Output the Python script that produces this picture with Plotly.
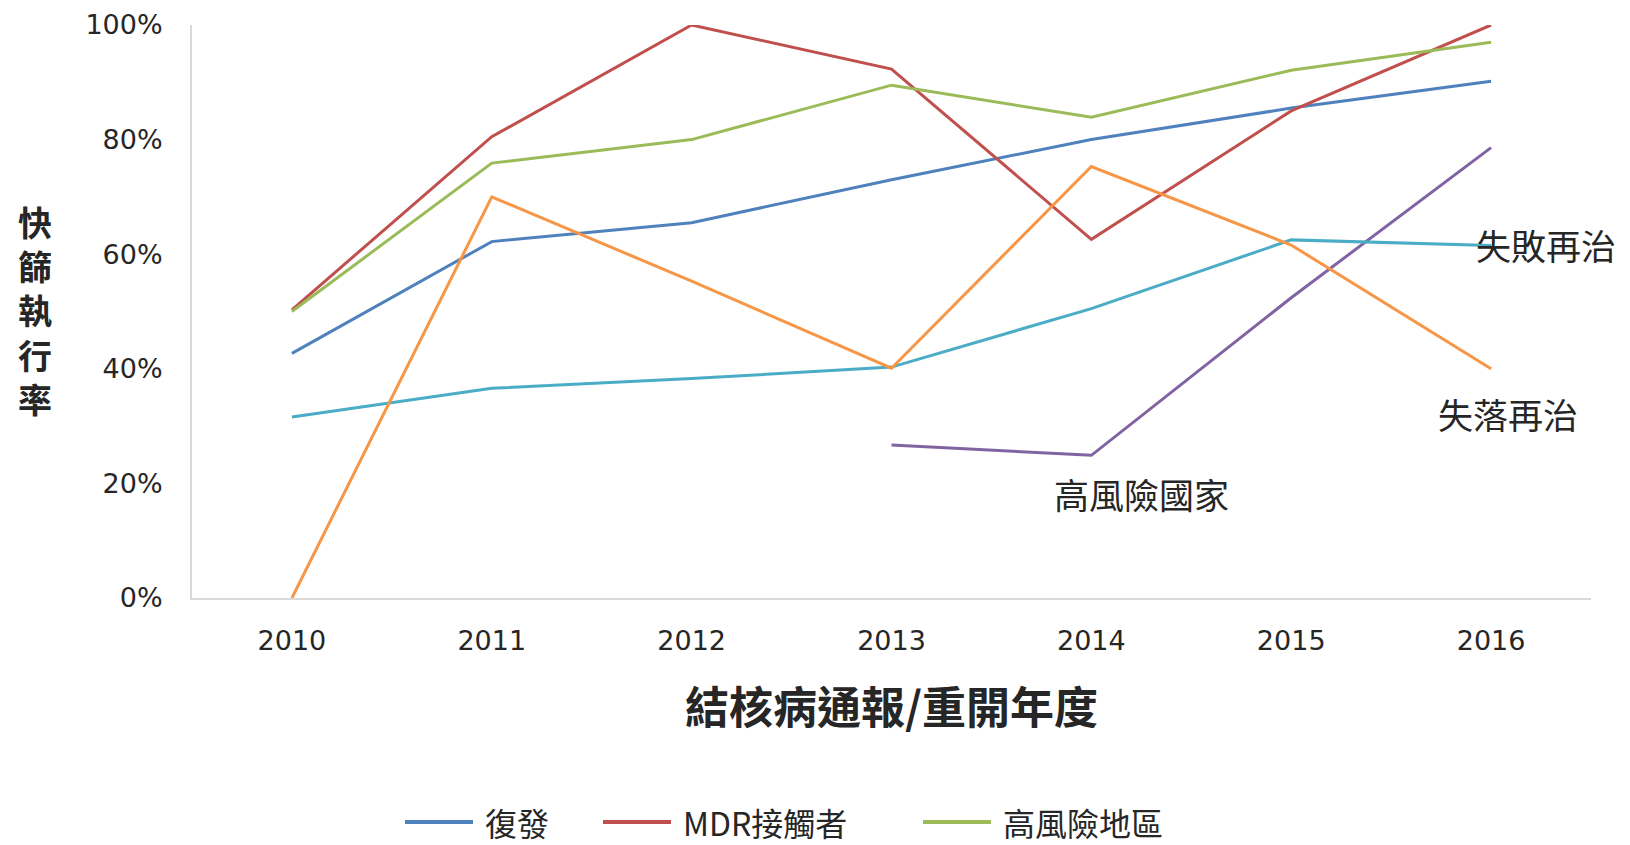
import plotly.graph_objects as go

# Screening rates by year of TB notification / re-registration
years = ["2010", "2011", "2012", "2013", "2014", "2015", "2016"]

relapse = [0.427, 0.622, 0.655, 0.730, 0.800, 0.855, 0.902]          # 復發
mdr_contacts = [0.503, 0.805, 1.000, 0.923, 0.626, 0.850, 1.000]     # MDR接觸者
high_risk_area = [0.500, 0.759, 0.800, 0.895, 0.839, 0.921, 0.970]   # 高風險地區
lost_retreat = [0.000, 0.700, 0.553, 0.401, 0.753, 0.616, 0.400]     # 失落再治
failed_retreat = [0.316, 0.366, 0.383, 0.403, 0.505, 0.625, 0.615]   # 失敗再治
high_risk_country = [None, None, None, 0.267, 0.249, 0.524, 0.786]   # 高風險國家

y_title = "快篩執行率"
x_title = "結核病通報/重開年度"

CJK = "Noto Sans CJK TC"
NUM = "DejaVu Sans"
TEXT = "#262626"

series = [
    ("復發", relapse, "#4F81BD"),
    ("MDR接觸者", mdr_contacts, "#C0504D"),
    ("高風險地區", high_risk_area, "#9BBB59"),
    ("高風險國家", high_risk_country, "#8064A2"),
    ("失敗再治", failed_retreat, "#4BACC6"),
    ("失落再治", lost_retreat, "#F79646"),
]
legend_names = ["復發", "MDR接觸者", "高風險地區"]

fig = go.Figure()
for name, vals, color in series:
    fig.add_trace(go.Scatter(
        x=years, y=vals, name=name, mode="lines",
        line=dict(color=color, width=3),
        showlegend=False, connectgaps=False,
    ))

# Direct labels for the series without a legend entry
label_font = dict(family=CJK, size=35, color=TEXT)
i16 = years.index("2016")
i14 = years.index("2014")
fig.add_annotation(x=i16, y=failed_retreat[i16], text="失敗再治",
                   xref="x", yref="y", showarrow=False, xanchor="left",
                   xshift=-17, yshift=1, font=label_font)
fig.add_annotation(x=i16, y=lost_retreat[i16], text="失落再治",
                   xref="x", yref="y", showarrow=False, xanchor="center",
                   xshift=17, yshift=-45, font=label_font)
fig.add_annotation(x=i14, y=high_risk_country[i14], text="高風險國家",
                   xref="x", yref="y", showarrow=False, xanchor="center",
                   xshift=50, yshift=-38, font=label_font)

# Stacked (upright) y-axis title, one character per line
PLOT_H = 573
fig.add_annotation(x=-0.112, y=(598 - 310) / PLOT_H, xref="paper", yref="paper",
                   text="<br>".join(y_title), showarrow=False,
                   xanchor="center", yanchor="middle",
                   font=dict(family=CJK, size=34, color=TEXT, weight="bold"))

# Legend row drawn below the axis title: line sample + label per entry
PLOT_W = 1399
legend_starts = [405, 603, 923]    # px from left of figure
legend_y = (598 - 822) / PLOT_H
colors = {n: c for n, _, c in series}
for name, x0 in zip(legend_names, legend_starts):
    fig.add_shape(type="line", xref="paper", yref="paper",
                  x0=(x0 - 192) / PLOT_W, x1=(x0 + 68 - 192) / PLOT_W,
                  y0=legend_y, y1=legend_y,
                  line=dict(color=colors[name], width=4))
    fig.add_annotation(x=(x0 + 78 - 192) / PLOT_W, y=legend_y,
                       xref="paper", yref="paper", text=name, showarrow=False,
                       xanchor="left", yanchor="middle",
                       font=dict(family=CJK, size=32, color=TEXT))

fig.update_layout(
    width=1630, height=845,
    margin=dict(l=192, r=39, t=25, b=247, autoexpand=False),
    paper_bgcolor="white", plot_bgcolor="white",
    font=dict(family=CJK, color=TEXT),
    showlegend=False,
)

fig.update_xaxes(
    type="category", range=[-0.5, 6.5],
    showline=True, linecolor="#D9D9D9", linewidth=2,
    showgrid=False, ticks="", zeroline=False,
    tickfont=dict(family=NUM, size=27, color=TEXT),
    ticklabelstandoff=18,
    title=dict(text=x_title, standoff=38,
               font=dict(family=CJK, size=44, color=TEXT, weight="bold")),
)
fig.update_yaxes(
    range=[0, 1], dtick=0.2, tickformat=".0%",
    showline=True, linecolor="#D9D9D9", linewidth=2,
    showgrid=False, ticks="", zeroline=False,
    tickfont=dict(family=NUM, size=27, color=TEXT),
    ticklabelstandoff=22,
)

fig.write_html("out.html")
